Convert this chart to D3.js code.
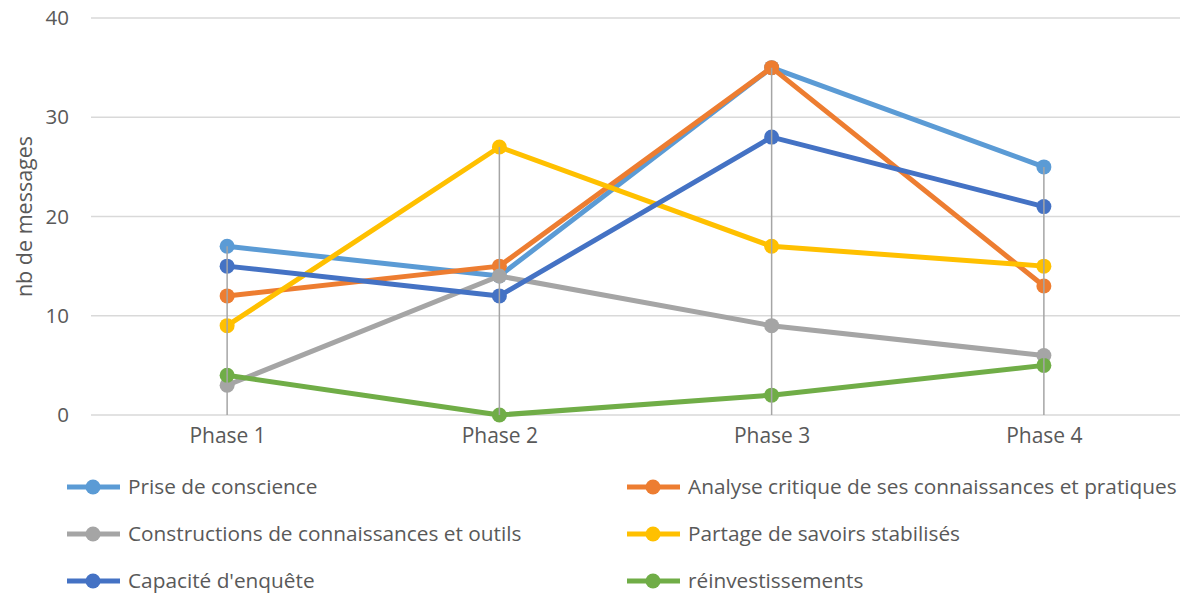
<!DOCTYPE html>
<html>
<head>
<meta charset="utf-8">
<title>nb de messages</title>
<script src="https://cdn.jsdelivr.net/npm/d3@7"></script>
<style>
body{margin:0;background:#fff;}
text{font-family:"Open Sans","Noto Sans",sans-serif;fill:#595959;}
</style>
</head>
<body>
<script>
// data
var phases = ["Phase 1","Phase 2","Phase 3","Phase 4"];
var seriesNames = ["Prise de conscience","Analyse critique de ses connaissances et pratiques",
  "Constructions de connaissances et outils","Partage de savoirs stabilisés",
  "Capacité d'enquête","réinvestissements"];
var prise = [17,14,35,25];
var analyse = [12,15,35,13];
var constructions = [3,14,9,6];
var partage = [9,27,17,15];
var capacite = [15,12,28,21];
var reinvest = [4,0,2,5];
var yTicks = [0,10,20,30,40];
var colors = ["#5B9BD5","#ED7D31","#A5A5A5","#FFC000","#4472C4","#70AD47"];

var values = [prise,analyse,constructions,partage,capacite,reinvest];
var series = seriesNames.map(function(n,i){ return {name:n, vals:values[i], color:colors[i]}; });

var width = 1188, height = 594;
var pLeft = 91, pRight = 1180, pTop = 18, pBottom = 415;

var svg = d3.select("body").append("svg")
  .attr("width",width).attr("height",height);

var x = d3.scalePoint().domain(phases).range([pLeft,pRight]).padding(0.5);
var y = d3.scaleLinear().domain([0,40]).range([pBottom,pTop]);

// gridlines
svg.append("g").selectAll("line").data(yTicks).enter().append("line")
  .attr("x1",pLeft).attr("x2",pRight)
  .attr("y1",function(d){return y(d);}).attr("y2",function(d){return y(d);})
  .attr("stroke","#d9d9d9").attr("stroke-width",1.5);

// y axis labels
var ay = d3.axisLeft(y).tickValues(yTicks).tickSize(0).tickPadding(0);
var gy = svg.append("g").attr("transform","translate(69,0)").call(ay);
gy.select(".domain").remove();
gy.selectAll("text").style("font-size","20.5px").attr("fill","#595959").attr("font-family",null);

// x axis labels
var ax = d3.axisBottom(x).tickSize(0).tickPadding(0);
var gx = svg.append("g").attr("transform","translate(0,428)").call(ax);
gx.select(".domain").remove();
gx.selectAll("text").style("font-size","21px").attr("fill","#595959").attr("font-family",null);

svg.append("text")
  .attr("transform","translate(32,"+((pTop+pBottom)/2)+") rotate(-90)")
  .attr("text-anchor","middle")
  .style("font-size","21.5px")
  .text("nb de messages");

var line = d3.line()
  .x(function(d,i){return x(phases[i]);})
  .y(function(d){return y(d);});

var sg = svg.selectAll("g.series").data(series).enter().append("g").attr("class","series");
sg.append("path")
  .attr("d",function(s){return line(s.vals);})
  .attr("fill","none")
  .attr("stroke",function(s){return s.color;})
  .attr("stroke-width",5)
  .attr("stroke-linejoin","round");
sg.selectAll("circle").data(function(s){return s.vals.map(function(v,i){return {v:v,i:i,c:s.color};});})
  .enter().append("circle")
  .attr("cx",function(d){return x(phases[d.i]);})
  .attr("cy",function(d){return y(d.v);})
  .attr("r",7.5)
  .attr("fill",function(d){return d.c;});

// drop lines from max to axis
svg.append("g").selectAll("line").data(phases).enter().append("line")
  .attr("x1",function(p){return x(p);}).attr("x2",function(p){return x(p);})
  .attr("y1",function(p,i){return y(d3.max(values,function(v){return v[i];}));})
  .attr("y2",y(0))
  .attr("stroke","#a5a5a5").attr("stroke-width",1.5);

// legend
var legend = svg.append("g");
var lg = legend.selectAll("g").data(series).enter().append("g")
  .attr("transform",function(s,i){
    var col = i%2, row = Math.floor(i/2);
    return "translate("+(col?627:67)+","+(487+row*47)+")";
  });
lg.append("line").attr("x1",0).attr("x2",53).attr("y1",0).attr("y2",0)
  .attr("stroke",function(s){return s.color;}).attr("stroke-width",5);
lg.append("circle").attr("cx",26).attr("cy",0).attr("r",7.5)
  .attr("fill",function(s){return s.color;});
lg.append("text").attr("x",61).attr("y",0).attr("dy","0.35em")
  .style("font-size","20.8px")
  .text(function(s){return s.name;});
</script>
</body>
</html>
